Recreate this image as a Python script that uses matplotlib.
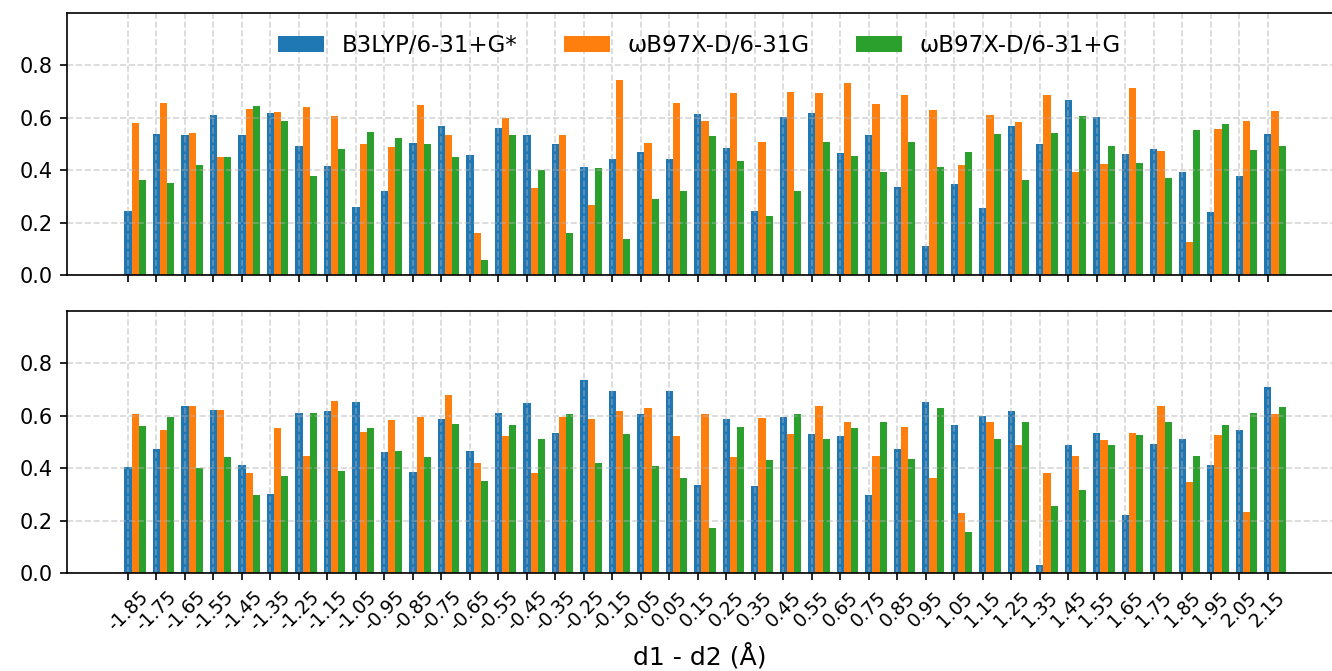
import numpy as np
import matplotlib
matplotlib.use("Agg")
import matplotlib.pyplot as plt

# Bond-length difference categories (Å)
d_labels = ["-1.85", "-1.75", "-1.65", "-1.55", "-1.45", "-1.35", "-1.25", "-1.15",
            "-1.05", "-0.95", "-0.85", "-0.75", "-0.65", "-0.55", "-0.45", "-0.35",
            "-0.25", "-0.15", "-0.05", "0.05", "0.15", "0.25", "0.35", "0.45",
            "0.55", "0.65", "0.75", "0.85", "0.95", "1.05", "1.15", "1.25",
            "1.35", "1.45", "1.55", "1.65", "1.75", "1.85", "1.95", "2.05", "2.15"]

series_names = ["B3LYP/6-31+G*", "ωB97X-D/6-31G", "ωB97X-D/6-31+G"]
series_colors = ["#1f77b4", "#ff7f0e", "#2ca02c"]

# Upper panel
top_b3lyp = [0.244, 0.538, 0.533, 0.612, 0.535, 0.618, 0.494, 0.415, 0.261, 0.321,
             0.503, 0.570, 0.457, 0.563, 0.533, 0.501, 0.411, 0.444, 0.469, 0.441,
             0.614, 0.484, 0.244, 0.602, 0.618, 0.466, 0.533, 0.337, 0.112, 0.346,
             0.254, 0.567, 0.501, 0.668, 0.603, 0.462, 0.481, 0.395, 0.240, 0.378,
             0.539]
top_wb_631g = [0.580, 0.656, 0.541, 0.450, 0.633, 0.624, 0.642, 0.605, 0.499, 0.490,
               0.649, 0.535, 0.160, 0.600, 0.332, 0.533, 0.269, 0.745, 0.503, 0.656,
               0.589, 0.693, 0.507, 0.700, 0.693, 0.732, 0.653, 0.688, 0.631, 0.420,
               0.612, 0.585, 0.688, 0.395, 0.425, 0.715, 0.473, 0.125, 0.557, 0.589,
               0.627]
top_wb_631pg = [0.361, 0.352, 0.419, 0.451, 0.646, 0.589, 0.377, 0.481, 0.545, 0.524,
                0.501, 0.450, 0.057, 0.533, 0.400, 0.160, 0.409, 0.137, 0.289, 0.321,
                0.529, 0.436, 0.226, 0.319, 0.507, 0.456, 0.395, 0.508, 0.411, 0.469,
                0.539, 0.361, 0.542, 0.605, 0.494, 0.428, 0.372, 0.552, 0.576, 0.478,
                0.493]

# Lower panel
bot_b3lyp = [0.405, 0.475, 0.637, 0.623, 0.414, 0.301, 0.611, 0.618, 0.652, 0.462,
             0.387, 0.589, 0.465, 0.611, 0.648, 0.535, 0.736, 0.696, 0.606, 0.693,
             0.335, 0.587, 0.331, 0.595, 0.531, 0.522, 0.297, 0.473, 0.651, 0.566,
             0.601, 0.618, 0.031, 0.488, 0.536, 0.220, 0.494, 0.512, 0.411, 0.544,
             0.708]
bot_wb_631g = [0.608, 0.544, 0.636, 0.623, 0.381, 0.553, 0.446, 0.657, 0.538, 0.583,
               0.595, 0.678, 0.419, 0.522, 0.383, 0.594, 0.587, 0.620, 0.629, 0.522,
               0.608, 0.442, 0.591, 0.530, 0.636, 0.576, 0.448, 0.559, 0.361, 0.228,
               0.578, 0.490, 0.383, 0.448, 0.507, 0.534, 0.638, 0.348, 0.526, 0.231,
               0.606]
bot_wb_631pg = [0.561, 0.595, 0.399, 0.441, 0.298, 0.371, 0.611, 0.391, 0.555, 0.465,
                0.441, 0.567, 0.352, 0.563, 0.512, 0.605, 0.418, 0.531, 0.408, 0.364,
                0.172, 0.559, 0.433, 0.608, 0.512, 0.553, 0.576, 0.434, 0.629, 0.155,
                0.510, 0.578, 0.254, 0.317, 0.490, 0.526, 0.578, 0.445, 0.563, 0.611,
                0.633]

panels = [
    [top_b3lyp, top_wb_631g, top_wb_631pg],
    [bot_b3lyp, bot_wb_631g, bot_wb_631pg],
]

x = np.arange(len(d_labels))
width = 0.25

fig, axes = plt.subplots(2, 1, sharex=True, figsize=(1332 / 150, 671 / 150), dpi=150)
fig.subplots_adjust(left=0.0503, right=1.0, bottom=0.1461, top=0.9806, hspace=0.1374)

for ax, data in zip(axes, panels):
    for k, (vals, name, col) in enumerate(zip(data, series_names, series_colors)):
        ax.bar(x + k * width, vals, width, color=col, label=name)
    ax.set_ylim(0, 1.0)
    ax.set_yticks([0.0, 0.2, 0.4, 0.6, 0.8])
    ax.tick_params(axis="y", labelsize=10)
    ax.grid(True, linestyle="--", alpha=0.5)
    ax.spines["right"].set_visible(False)
    ax.set_xlim(-2.14, 42.25)

axes[0].legend(loc="upper center", ncol=3, frameon=False, fontsize=11)

axes[1].set_xticks(x)
axes[1].set_xticklabels(d_labels, rotation=45, fontsize=9)
axes[1].set_xlabel("d1 - d2 (Å)", fontsize=12)

fig.savefig("out.png", dpi=150)
